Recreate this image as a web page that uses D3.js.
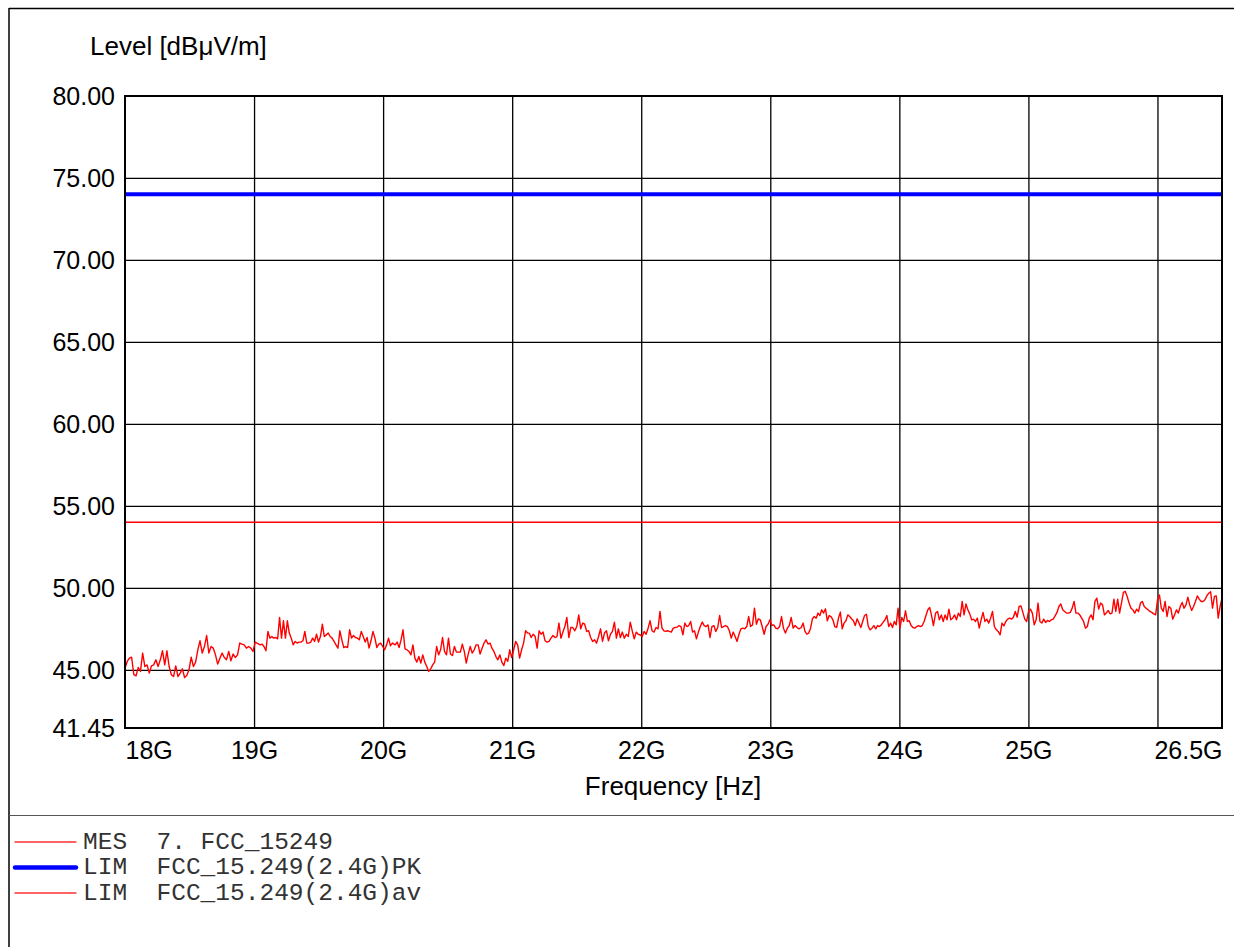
<!DOCTYPE html>
<html>
<head>
<meta charset="utf-8">
<script src="https://cdn.jsdelivr.net/npm/d3@7"></script>
<style>
  html, body { margin: 0; padding: 0; background: #fff; }
  svg { display: block; }
</style>
</head>
<body>
<svg id="chart" width="1234" height="947"></svg>
<script>
// ---- Data ----
const yTickValues = [41.45, 45, 50, 55, 60, 65, 70, 75, 80];
const xGridGHz = [19, 20, 21, 22, 23, 24, 25, 26];
const xLabelGHz = [18, 19, 20, 21, 22, 23, 24, 25, 26.5];
const xLabelText = ["18G", "19G", "20G", "21G", "22G", "23G", "24G", "25G", "26.5G"];
const peakLimit = 74;     // FCC_15.249(2.4G)PK
const avgLimit = 54;      // FCC_15.249(2.4G)av

// measured trace, split in sweep segments (start / stop frequency in GHz)
const segStartGHz = [18.0, 19.047, 20.093, 21.132, 22.188, 23.240, 24.281];
const segStopGHz  = [19.026, 20.072, 21.119, 22.176, 23.222, 24.264, 26.5];
const levelsA = [45.10,45.51,45.71,45.77,44.70,44.63,45.14,44.90,46.02,45.20,
  45.30,44.80,45.24,45.30,45.61,45.20,45.61,46.16,45.30,46.16,
  45.20,44.70,44.59,45.24,44.59,44.80,45.06,44.53,44.65,45.00,
  45.77,45.20,45.47,46.22,46.77,46.02,46.42,47.09,46.02,46.42,
  46.32,45.91,45.35,45.71,46.02,45.75,45.61,46.12,45.55,45.96,
  45.75,45.91,46.63,46.57,46.52,46.32,46.42,46.32,46.12,46.69,46.61];
const levelsB = [46.52,46.57,46.42,46.16,47.34,46.93,47.03,46.93,46.97,46.89,
  48.19,46.93,47.99,46.93,47.99,47.24,46.93,46.52,46.73,46.63,
  46.69,46.69,46.77,47.34,46.63,46.63,46.69,46.93,46.73,47.17,
  46.69,47.03,47.78,47.03,47.13,47.24,47.03,46.93,46.73,46.52,
  46.32,47.38,46.83,46.36,46.42,46.36,47.44,46.93,47.09,46.97,
  46.93,46.83,47.34,47.03,46.69,46.97,46.32,46.77,47.34,46.93,
  46.36,46.57,46.63,46.42,46.22,46.52,46.93,46.47,46.63];
const levelsC = [46.52,46.69,46.36,46.83,47.44,46.28,46.22,46.12,45.91,46.52,
  45.71,45.47,45.81,45.41,45.91,45.47,45.20,44.90,45.06,45.30,
  45.47,46.42,45.91,46.22,46.97,46.12,45.91,46.93,45.96,45.87,
  46.42,46.08,46.08,46.08,46.57,46.12,45.41,45.96,46.42,46.02,
  46.22,46.52,46.52,45.96,46.32,46.63,46.83,46.57,46.63,46.32,
  46.12,45.81,45.61,45.91,45.47,45.26,45.71,45.51,46.22,45.75,
  46.22,46.73,46.52,45.71,46.22,46.63,47.38,47.24];
const levelsD = [47.24,46.97,47.17,47.03,46.32,47.38,47.17,47.30,46.77,46.69,
  46.73,46.93,47.09,46.97,47.03,47.85,46.93,47.30,47.64,48.19,
  46.97,47.58,47.58,47.38,47.64,48.35,47.50,47.85,47.78,47.34,
  47.38,46.97,46.73,46.83,46.63,47.03,47.50,46.73,47.24,47.38,
  46.77,47.17,47.34,47.91,46.93,47.50,46.97,47.30,46.93,47.17,
  47.03,47.91,47.38,46.89,47.30,47.17,47.13,47.03,47.34,47.17,
  47.54,47.99,47.38,47.30,47.58,47.50,48.56,47.54,47.38];
const levelsE = [47.34,47.38,47.34,47.30,47.54,47.58,47.60,47.70,47.64,47.13,
  47.85,47.64,47.70,47.95,47.30,47.38,46.89,47.30,47.64,47.91,
  47.70,47.64,47.74,46.97,47.64,47.70,47.34,47.58,48.31,47.58,
  47.64,47.70,47.64,47.38,46.93,47.30,47.03,46.73,47.17,47.50,
  47.54,47.50,47.64,48.25,47.64,47.74,48.76,47.78,48.11,48.05,
  47.64,47.17,47.64,47.78,48.05,47.70,47.74,47.54,47.50,47.64,
  48.25,47.54,47.24,47.54,47.70,48.19,47.54,47.70,47.58,47.50];
const levelsF = [47.58,47.85,47.34,47.17,47.24,47.54,48.11,48.25,48.15,48.46,
  48.31,48.66,48.46,48.72,47.99,48.31,48.25,48.05,47.64,47.58,
  48.15,48.52,47.50,47.85,47.99,48.35,48.25,48.11,47.99,47.70,
  48.11,47.85,47.58,47.95,48.31,48.39,47.64,47.44,47.54,47.70,
  47.50,47.70,47.64,47.74,47.91,48.05,48.31,47.64,47.85,47.58,
  47.95,47.74,48.76,47.54,48.19,47.95,48.60,47.95,47.99,47.70,
  47.58,47.54,47.64,47.70,47.64,47.70,47.95,48.31,48.66,48.80,48.31,47.70];
const levelsG = [48.46,48.56,48.05,48.35,47.95,48.35,48.05,48.70,48.05,48.15,
  48.35,48.05,48.46,48.25,49.17,48.35,49.02,48.66,48.41,48.05,
  48.09,47.95,48.15,47.54,48.05,48.50,47.95,48.09,47.85,48.15,
  48.56,47.64,47.44,47.34,47.13,47.85,47.68,47.95,48.09,48.15,
  48.09,48.21,48.56,48.21,48.86,48.90,48.50,48.09,47.95,48.56,
  48.70,48.46,47.74,48.05,49.07,47.95,47.85,48.09,47.89,48.01,
  47.95,48.05,48.09,48.29,48.50,48.86,49.02,48.66,48.56,48.46,
  48.46,48.50,48.76,49.17,48.46,48.46,48.35,48.15,47.95,47.54,
  47.64,48.15,48.35,48.05,49.17,49.37,48.70,49.07,48.96,48.35,
  48.46,48.62,48.41,48.46,49.31,48.56,49.31,48.46,49.07,49.72,
  49.78,49.47,49.07,48.76,48.66,48.46,48.70,48.56,49.07,49.17,
  48.86,48.76,48.66,48.56,48.50,48.41,48.35,49.27,49.57,48.76,
  48.56,49.17,48.25,48.86,48.76,48.09,48.35,48.66,48.46,48.86,
  49.11,48.76,48.96,49.43,48.96,48.62,48.86,49.17,49.51,49.31,
  49.17,49.17,49.27,49.51,49.67,49.76,48.76,49.47,49.51,48.15,
  48.86,49.37];
const segLevels = [levelsA, levelsB, levelsC, levelsD, levelsE, levelsF, levelsG];

const legendLabels = ["MES  7. FCC_15249", "LIM  FCC_15.249(2.4G)PK", "LIM  FCC_15.249(2.4G)av"];

// ---- Build point list ----
const trace = [];
segLevels.forEach((lv, s) => {
  const f0 = segStartGHz[s], f1 = segStopGHz[s], n = lv.length;
  lv.forEach((v, j) => trace.push({ f: (f0 + (f1 - f0) * j / (n - 1)) * 1e9, v }));
});

// ---- Layout ----
const svg = d3.select("#chart");
const L = 125, R = 1222, T = 96, B = 728;
const x = d3.scaleLinear().domain([18e9, 26.5e9]).range([L, R]);
const y = d3.scaleLinear().domain([41.45, 80]).range([B, T]);
const sansFont = "'Liberation Sans', Arial, sans-serif";

// outer frame
svg.append("line").attr("x1", 9).attr("x2", 9).attr("y1", 8).attr("y2", 947)
  .attr("stroke", "#000").attr("stroke-width", 1.5);
svg.append("line").attr("x1", 9).attr("x2", 1234).attr("y1", 8.5).attr("y2", 8.5)
  .attr("stroke", "#000").attr("stroke-width", 1.5);
svg.append("line").attr("x1", 9).attr("x2", 1234).attr("y1", 815.5).attr("y2", 815.5)
  .attr("stroke", "#555").attr("stroke-width", 1.2);

// grid
const gridY = svg.append("g").attr("transform", `translate(${L},0)`)
  .call(d3.axisLeft(y).tickValues(yTickValues.filter(v => v > 41.45 && v < 80))
    .tickSize(-(R - L)).tickFormat(""));
gridY.select(".domain").remove();
gridY.selectAll(".tick line").attr("stroke", "#000").attr("stroke-width", 1.3);

const gridX = svg.append("g").attr("transform", `translate(0,${B})`)
  .call(d3.axisBottom(x).tickValues(xGridGHz.map(g => g * 1e9))
    .tickSize(-(B - T)).tickFormat(""));
gridX.select(".domain").remove();
gridX.selectAll(".tick line").attr("stroke", "#000").attr("stroke-width", 1.3);

// y labels
const yAxis = svg.append("g").attr("transform", `translate(${L},0)`)
  .call(d3.axisLeft(y).tickValues(yTickValues).tickSize(0).tickPadding(10)
    .tickFormat(d3.format(".2f")));
yAxis.select(".domain").remove();
yAxis.selectAll("text").attr("font-family", sansFont).attr("font-size", 25)
  .attr("fill", "#000").attr("dy", "0.34em");

// x labels
const xAxis = svg.append("g").attr("transform", `translate(0,${B})`)
  .call(d3.axisBottom(x).tickValues(xLabelGHz.map(g => g * 1e9)).tickSize(0).tickPadding(0)
    .tickFormat((d, i) => xLabelText[i]));
xAxis.select(".domain").remove();
xAxis.selectAll("text").attr("font-family", sansFont).attr("font-size", 25)
  .attr("fill", "#000").attr("dy", null).attr("y", 31)
  .attr("text-anchor", (d, i) => i === 0 ? "start" : (i === xLabelGHz.length - 1 ? "end" : "middle"));

// axis titles
svg.append("text").attr("x", 90).attr("y", 55).attr("font-family", sansFont)
  .attr("font-size", 26).attr("fill", "#000").text("Level [dBμV/m]");
svg.append("text").attr("x", 673).attr("y", 795).attr("text-anchor", "middle")
  .attr("font-family", sansFont).attr("font-size", 26).attr("fill", "#000").text("Frequency [Hz]");

// limit lines
svg.append("line").attr("x1", x(18e9)).attr("x2", x(26.5e9))
  .attr("y1", y(avgLimit)).attr("y2", y(avgLimit))
  .attr("stroke", "#ff0000").attr("stroke-width", 1.3);
svg.append("line").attr("x1", x(18e9)).attr("x2", x(26.5e9))
  .attr("y1", y(peakLimit)).attr("y2", y(peakLimit))
  .attr("stroke", "#0000ff").attr("stroke-width", 4);

// trace
svg.append("path").datum(trace)
  .attr("fill", "none").attr("stroke", "#ff0000").attr("stroke-width", 1.4)
  .attr("stroke-linejoin", "round")
  .attr("d", d3.line().x(d => x(d.f)).y(d => y(d.v)));

// plot frame
svg.append("rect").attr("x", L).attr("y", T).attr("width", R - L).attr("height", B - T)
  .attr("fill", "none").attr("stroke", "#000").attr("stroke-width", 2);

// legend
const legendColors = ["#ff3030", "#0000ff", "#ff3030"];
const legendWidths = [1.3, 4.5, 1.3];
const lg = svg.append("g");
legendLabels.forEach((t, i) => {
  const yy = 842 + i * 25.5;
  lg.append("line").attr("x1", 15).attr("x2", 76).attr("y1", yy).attr("y2", yy)
    .attr("stroke", legendColors[i]).attr("stroke-width", legendWidths[i])
    .attr("stroke-linecap", "round");
  lg.append("text").attr("x", 83).attr("y", yy + 6.5)
    .attr("font-family", "'Liberation Mono', 'Courier New', monospace")
    .attr("font-size", 24.5).attr("fill", "#333")
    .style("white-space", "pre").text(t);
});
</script>
</body>
</html>
